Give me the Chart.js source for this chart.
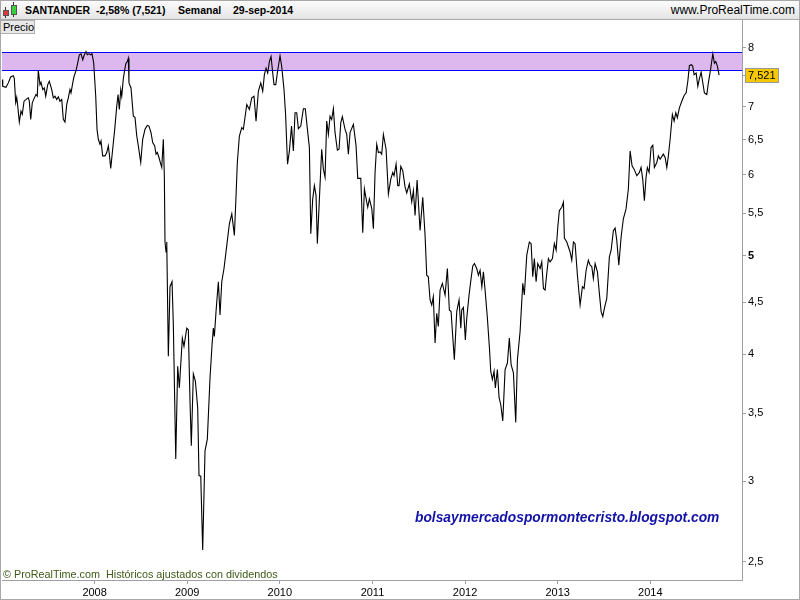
<!DOCTYPE html>
<html>
<head>
<meta charset="utf-8">
<script src="https://cdn.jsdelivr.net/npm/chart.js@4.4.1/dist/chart.umd.min.js"></script>
<style>
  body { margin: 0; background: #fff; }
  #wrap { position: relative; width: 800px; height: 600px; overflow: hidden; font-family: "Liberation Sans", Arial, sans-serif; }
  #chart { position: absolute; left: 0; top: 0; }
  #header { position: absolute; left: 0; top: 0; width: 800px; height: 20px; box-sizing: border-box;
            background: linear-gradient(#fdfdfd, #e4e4e4); border-bottom: 1px solid #a8a8a8; }
  #header span { position: absolute; top: 4px; font-size: 10.5px; font-weight: bold; color: #000; white-space: nowrap; }
  #header .site { right: 5px; font-weight: normal; font-size: 12px; top: 3px; }
  .candle { position: absolute; border: 1px solid #555; box-sizing: border-box; }
  .wick { position: absolute; width: 1px; background: #333; }
  #precio { position: absolute; left: 0; top: 20px; width: 35px; height: 14px; box-sizing: border-box;
            background: #e8e8e8; border: 1px solid #b0b0b0; font-size: 11px; line-height: 12px; padding-left: 2px; }
  #copy { position: absolute; left: 3px; top: 568px; font-size: 10.8px; color: #3d5a16; white-space: pre; }
  #blog { position: absolute; left: 415px; top: 510px; font-size: 13.8px; font-weight: bold; font-style: italic; color: #1212a8; white-space: nowrap; }
  #frame { position: absolute; left: 0; top: 0; width: 800px; height: 600px; box-sizing: border-box; border: 1px solid #a8a8a8; pointer-events: none; }
</style>
</head>
<body>
<div id="wrap">
  <canvas id="chart" width="800" height="600"></canvas>
  <div id="header">
    <div class="wick" style="left:5px;top:7px;height:11px"></div>
    <div class="candle" style="left:3px;top:10px;width:6px;height:6px;background:#e23a3a"></div>
    <div class="wick" style="left:13px;top:2px;height:15px"></div>
    <div class="candle" style="left:11px;top:5px;width:6px;height:10px;background:#3ad23a"></div>
    <span style="left:25px">SANTANDER</span>
    <span style="left:96px">-2,58% (7,521)</span>
    <span style="left:178px">Semanal</span>
    <span style="left:233px">29-sep-2014</span>
    <span class="site">www.ProRealTime.com</span>
  </div>
  <div id="precio">Precio</div>
  <div id="copy">© ProRealTime.com  Históricos ajustados con dividendos</div>
  <div id="blog">bolsaymercadospormontecristo.blogspot.com</div>
  <div id="frame"></div>
</div>
<script>
// weekly closes (date as decimal year)
const dates = [
  2007.000, 2007.008, 2007.043, 2007.068, 2007.094, 2007.122, 2007.133, 2007.148, 2007.159, 2007.170,
  2007.187, 2007.205, 2007.219, 2007.238, 2007.267, 2007.284, 2007.295, 2007.310, 2007.327, 2007.349,
  2007.367, 2007.381, 2007.392, 2007.410, 2007.421, 2007.440, 2007.457, 2007.472, 2007.494, 2007.511,
  2007.537, 2007.554, 2007.572, 2007.591, 2007.608, 2007.626, 2007.645, 2007.662, 2007.680, 2007.699,
  2007.716, 2007.734, 2007.745, 2007.764, 2007.778, 2007.799, 2007.818, 2007.835, 2007.853, 2007.872,
  2007.889, 2007.907, 2007.921, 2007.940, 2007.958, 2007.972, 2007.990, 2008.012, 2008.026, 2008.040,
  2008.058, 2008.069, 2008.087, 2008.112, 2008.131, 2008.148, 2008.159, 2008.174, 2008.195, 2008.217,
  2008.239, 2008.253, 2008.267, 2008.282, 2008.293, 2008.310, 2008.328, 2008.339, 2008.353, 2008.364,
  2008.371, 2008.393, 2008.418, 2008.436, 2008.455, 2008.472, 2008.498, 2008.519, 2008.544, 2008.569,
  2008.587, 2008.609, 2008.627, 2008.649, 2008.663, 2008.677, 2008.695, 2008.714, 2008.725, 2008.742,
  2008.753, 2008.760, 2008.771, 2008.779, 2008.796, 2008.814, 2008.836, 2008.850, 2008.876, 2008.897,
  2008.915, 2008.947, 2008.965, 2008.995, 2009.012, 2009.030, 2009.044, 2009.066, 2009.088, 2009.113,
  2009.127, 2009.146, 2009.167, 2009.192, 2009.217, 2009.246, 2009.268, 2009.282, 2009.293, 2009.311,
  2009.336, 2009.354, 2009.373, 2009.397, 2009.427, 2009.455, 2009.481, 2009.509, 2009.527, 2009.541,
  2009.563, 2009.589, 2009.606, 2009.643, 2009.671, 2009.697, 2009.721, 2009.743, 2009.768, 2009.794,
  2009.815, 2009.833, 2009.851, 2009.869, 2009.887, 2009.905, 2009.923, 2009.937, 2009.956, 2009.973,
  2010.002, 2010.020, 2010.045, 2010.062, 2010.083, 2010.103, 2010.126, 2010.146, 2010.164, 2010.182,
  2010.200, 2010.226, 2010.254, 2010.275, 2010.290, 2010.319, 2010.334, 2010.355, 2010.373, 2010.391,
  2010.405, 2010.427, 2010.452, 2010.470, 2010.488, 2010.506, 2010.524, 2010.542, 2010.560, 2010.578,
  2010.596, 2010.621, 2010.639, 2010.658, 2010.675, 2010.704, 2010.722, 2010.740, 2010.758, 2010.794,
  2010.823, 2010.841, 2010.874, 2010.895, 2010.913, 2010.938, 2010.949, 2010.967, 2010.993, 2011.010,
  2011.028, 2011.046, 2011.064, 2011.082, 2011.100, 2011.118, 2011.147, 2011.172, 2011.198, 2011.219,
  2011.233, 2011.255, 2011.273, 2011.287, 2011.306, 2011.327, 2011.352, 2011.370, 2011.398, 2011.424,
  2011.442, 2011.460, 2011.482, 2011.514, 2011.543, 2011.568, 2011.586, 2011.603, 2011.622, 2011.640,
  2011.657, 2011.676, 2011.694, 2011.711, 2011.730, 2011.755, 2011.784, 2011.809, 2011.830, 2011.849,
  2011.863, 2011.884, 2011.910, 2011.935, 2011.954, 2011.964, 2011.982, 2012.003, 2012.018, 2012.043,
  2012.065, 2012.083, 2012.101, 2012.126, 2012.144, 2012.162, 2012.181, 2012.198, 2012.216, 2012.241,
  2012.263, 2012.277, 2012.295, 2012.313, 2012.327, 2012.349, 2012.367, 2012.385, 2012.407, 2012.432,
  2012.457, 2012.478, 2012.497, 2012.522, 2012.547, 2012.565, 2012.594, 2012.623, 2012.640, 2012.666,
  2012.694, 2012.713, 2012.731, 2012.748, 2012.767, 2012.785, 2012.810, 2012.828, 2012.846, 2012.864,
  2012.882, 2012.900, 2012.918, 2012.943, 2012.964, 2012.983, 2013.001, 2013.018, 2013.044, 2013.062,
  2013.072, 2013.098, 2013.134, 2013.152, 2013.170, 2013.188, 2013.213, 2013.242, 2013.267, 2013.285,
  2013.307, 2013.331, 2013.350, 2013.368, 2013.385, 2013.404, 2013.429, 2013.450, 2013.469, 2013.487,
  2013.504, 2013.530, 2013.558, 2013.577, 2013.601, 2013.620, 2013.638, 2013.660, 2013.685, 2013.709,
  2013.738, 2013.763, 2013.782, 2013.803, 2013.825, 2013.854, 2013.882, 2013.900, 2013.918, 2013.936,
  2013.954, 2013.968, 2013.987, 2014.008, 2014.027, 2014.044, 2014.070, 2014.087, 2014.106, 2014.141,
  2014.160, 2014.178, 2014.195, 2014.214, 2014.238, 2014.257, 2014.275, 2014.292, 2014.314, 2014.340,
  2014.365, 2014.387, 2014.405, 2014.422, 2014.441, 2014.457, 2014.473, 2014.495, 2014.513, 2014.530,
  2014.549, 2014.567, 2014.584, 2014.610, 2014.627, 2014.653, 2014.675, 2014.692, 2014.707, 2014.725,
  2014.743
];
const closes = [
  7.445, 7.333, 7.317, 7.390, 7.490, 7.512, 7.462, 7.070, 7.149, 7.011,
  6.763, 6.932, 6.881, 7.090, 7.128, 7.144, 7.090, 6.804, 7.065, 7.144,
  7.198, 7.171, 7.602, 7.361, 7.400, 7.279, 7.306, 7.171, 7.361, 7.417,
  7.279, 7.144, 7.171, 7.117, 7.161, 7.090, 7.117, 6.804, 6.763, 7.038,
  7.144, 7.279, 7.225, 7.390, 7.500, 7.597, 7.735, 7.875, 7.893, 7.787,
  7.875, 7.934, 7.875, 7.893, 7.875, 7.893, 7.735, 7.171, 6.653, 6.505,
  6.432, 6.480, 6.265, 6.265, 6.313, 6.408, 6.289, 6.090, 6.360, 6.653,
  7.011, 7.198, 6.959, 7.279, 7.171, 7.462, 7.640, 7.727, 7.755, 7.815,
  7.390, 7.306, 6.855, 6.835, 6.553, 6.408, 6.172, 6.505, 6.653, 6.713,
  6.702, 6.603, 6.456, 6.408, 6.289, 6.313, 6.242, 6.149, 6.104, 6.505,
  5.972, 5.156, 5.041, 5.156, 3.981, 4.660, 4.713, 4.275, 3.156, 3.892,
  3.707, 4.148, 4.071, 4.243, 4.227, 3.598, 3.252, 3.825, 3.763, 3.544,
  3.040, 3.035, 2.568, 3.215, 3.301, 3.791, 4.086, 4.243, 4.164, 4.405,
  4.713, 4.371, 4.713, 4.856, 5.117, 5.373, 5.495, 5.234, 5.726, 6.172,
  6.553, 6.678, 6.653, 7.038, 6.959, 7.144, 7.171, 6.778, 7.252, 7.390,
  7.252, 7.529, 7.640, 7.557, 7.755, 7.845, 7.557, 7.361, 7.361, 7.557,
  7.858, 7.672, 7.279, 6.881, 6.149, 6.332, 6.702, 6.336, 6.907, 6.907,
  6.663, 6.702, 6.970, 6.970, 6.754, 6.384, 5.254, 5.684, 5.857, 5.726,
  5.137, 5.684, 6.360, 6.080, 5.970, 6.778, 6.578, 6.855, 6.804, 6.970,
  6.603, 6.346, 6.360, 6.754, 6.846, 6.653, 6.578, 6.289, 6.603, 6.728,
  6.408, 5.954, 5.954, 5.266, 5.813, 5.642, 5.578, 5.684, 5.557, 5.313,
  6.035, 6.432, 6.313, 6.322, 6.289, 6.578, 6.360, 5.748, 5.945, 6.035,
  5.990, 6.149, 5.857, 5.857, 6.117, 6.058, 5.840, 5.761, 5.879, 5.646,
  5.791, 5.474, 5.932, 5.293, 5.706, 5.234, 4.783, 4.766, 4.522, 4.471,
  4.557, 4.102, 4.388, 4.259, 4.624, 4.695, 4.573, 4.856, 4.421, 4.405,
  4.211, 3.951, 4.405, 4.522, 4.243, 4.421, 4.446, 4.132, 4.339, 4.573,
  4.748, 4.885, 4.911, 4.856, 4.783, 4.837, 4.660, 4.819, 4.624, 4.339,
  4.056, 3.849, 3.777, 3.849, 3.707, 3.863, 3.625, 3.570, 3.440, 3.863,
  3.921, 4.148, 3.907, 3.834, 3.427, 3.951, 4.211, 4.695, 4.573, 5.005,
  5.156, 5.137, 4.766, 4.966, 4.713, 4.911, 4.856, 4.929, 4.642, 4.624,
  4.801, 4.966, 4.929, 4.966, 5.137, 5.061, 5.331, 5.536, 5.578, 5.642,
  5.203, 5.156, 5.041, 4.947, 5.156, 5.137, 4.783, 4.471, 4.660, 4.642,
  4.837, 4.947, 4.892, 4.878, 4.748, 4.911, 4.819, 4.590, 4.405, 4.356,
  4.438, 4.539, 4.985, 5.061, 5.289, 5.322, 5.175, 4.892, 5.218, 5.434,
  5.557, 5.813, 6.336, 6.126, 6.080, 5.990, 6.035, 6.103, 5.945, 5.662,
  5.970, 6.103, 6.035, 6.384, 6.417, 6.103, 6.172, 6.265, 6.219, 6.289,
  6.242, 6.103, 6.265, 6.505, 6.881, 6.778, 6.907, 6.830, 6.985, 7.090,
  7.182, 7.225, 7.417, 7.683, 7.700, 7.683, 7.529, 7.557, 7.333, 7.462,
  7.571, 7.390, 7.225, 7.198, 7.390, 7.640, 7.893, 7.727, 7.755, 7.672,
  7.521
];
const yearTicks = [2008, 2009, 2010, 2011, 2012, 2013, 2014];
const priceTicks = [2.5, 3, 3.5, 4, 4.5, 5, 5.5, 6, 6.5, 7, 8];
const bandTop = 7.92;
const bandBottom = 7.61;
const lastLabel = '7,521';

const axisFont = { family: '"Liberation Sans", Arial, sans-serif', size: 11 };

const overlay = {
    id: 'overlay',
    beforeDatasetsDraw(chart) {
        const { ctx, chartArea: a, scales: { y } } = chart;
        const t = Math.round(y.getPixelForValue(bandTop)) + 0.5;
        const b = Math.round(y.getPixelForValue(bandBottom)) + 0.5;
        ctx.save();
        ctx.fillStyle = '#dcb8ee';
        ctx.fillRect(a.left, t, a.right - a.left, b - t);
        ctx.strokeStyle = '#0000ff';
        ctx.lineWidth = 1;
        ctx.beginPath();
        ctx.moveTo(a.left, t); ctx.lineTo(a.right, t);
        ctx.moveTo(a.left, b); ctx.lineTo(a.right, b);
        ctx.stroke();
        ctx.restore();
    },
    afterDraw(chart) {
        const { ctx, chartArea: a, scales: { y } } = chart;
        const py = Math.round(y.getPixelForValue(closes[closes.length - 1]));
        ctx.save();
        ctx.strokeStyle = '#a0a0a0';
        ctx.beginPath();
        ctx.moveTo(a.right, py + 0.5); ctx.lineTo(a.right + 4, py + 0.5);
        ctx.stroke();
        ctx.fillStyle = '#f5c800';
        ctx.fillRect(a.right + 3, py - 7, 34, 15);
        ctx.strokeStyle = '#999';
        ctx.strokeRect(a.right + 3.5, py - 6.5, 33, 14);
        ctx.fillStyle = '#000';
        ctx.font = '11px "Liberation Sans", Arial, sans-serif';
        ctx.textBaseline = 'middle';
        ctx.fillText(lastLabel, a.right + 6, py + 1);
        ctx.restore();
    }
};

new Chart(document.getElementById('chart'), {
    type: 'line',
    data: {
        datasets: [{
            data: dates.map((d, i) => ({ x: d, y: closes[i] })),
            borderColor: '#000',
            borderWidth: 1.1,
            pointRadius: 0,
            tension: 0
        }]
    },
    options: {
        responsive: false,
        animation: false,
        layout: { padding: { top: 20, left: 2, right: 0, bottom: 0 } },
        plugins: { legend: { display: false }, tooltip: { enabled: false } },
        scales: {
            x: {
                type: 'linear',
                min: 2007,
                max: 2014.99,
                afterBuildTicks: (s) => { s.ticks = yearTicks.map(v => ({ value: v })); },
                afterFit: (s) => { s.height = 20; },
                ticks: { autoSkip: false, maxRotation: 0, padding: 2, color: '#000', font: axisFont, callback: v => String(v) },
                grid: { drawOnChartArea: false, tickLength: 4, color: '#a0a0a0' },
                border: { color: '#a0a0a0' }
            },
            y: {
                type: 'logarithmic',
                position: 'right',
                min: 2.417,
                max: 8.52,
                afterBuildTicks: (s) => { s.ticks = priceTicks.map(v => ({ value: v })); },
                afterFit: (s) => { s.width = 58; },
                ticks: {
                    autoSkip: false,
                    padding: 2,
                    color: '#000',
                    font: (c) => ({ ...axisFont, weight: c.tick && c.tick.value === 5 ? 'bold' : 'normal' }),
                    callback: v => String(v).replace('.', ',')
                },
                grid: { drawOnChartArea: false, tickLength: 4, color: '#a0a0a0' },
                border: { color: '#a0a0a0' }
            }
        }
    },
    plugins: [overlay]
});
</script>
</body>
</html>
